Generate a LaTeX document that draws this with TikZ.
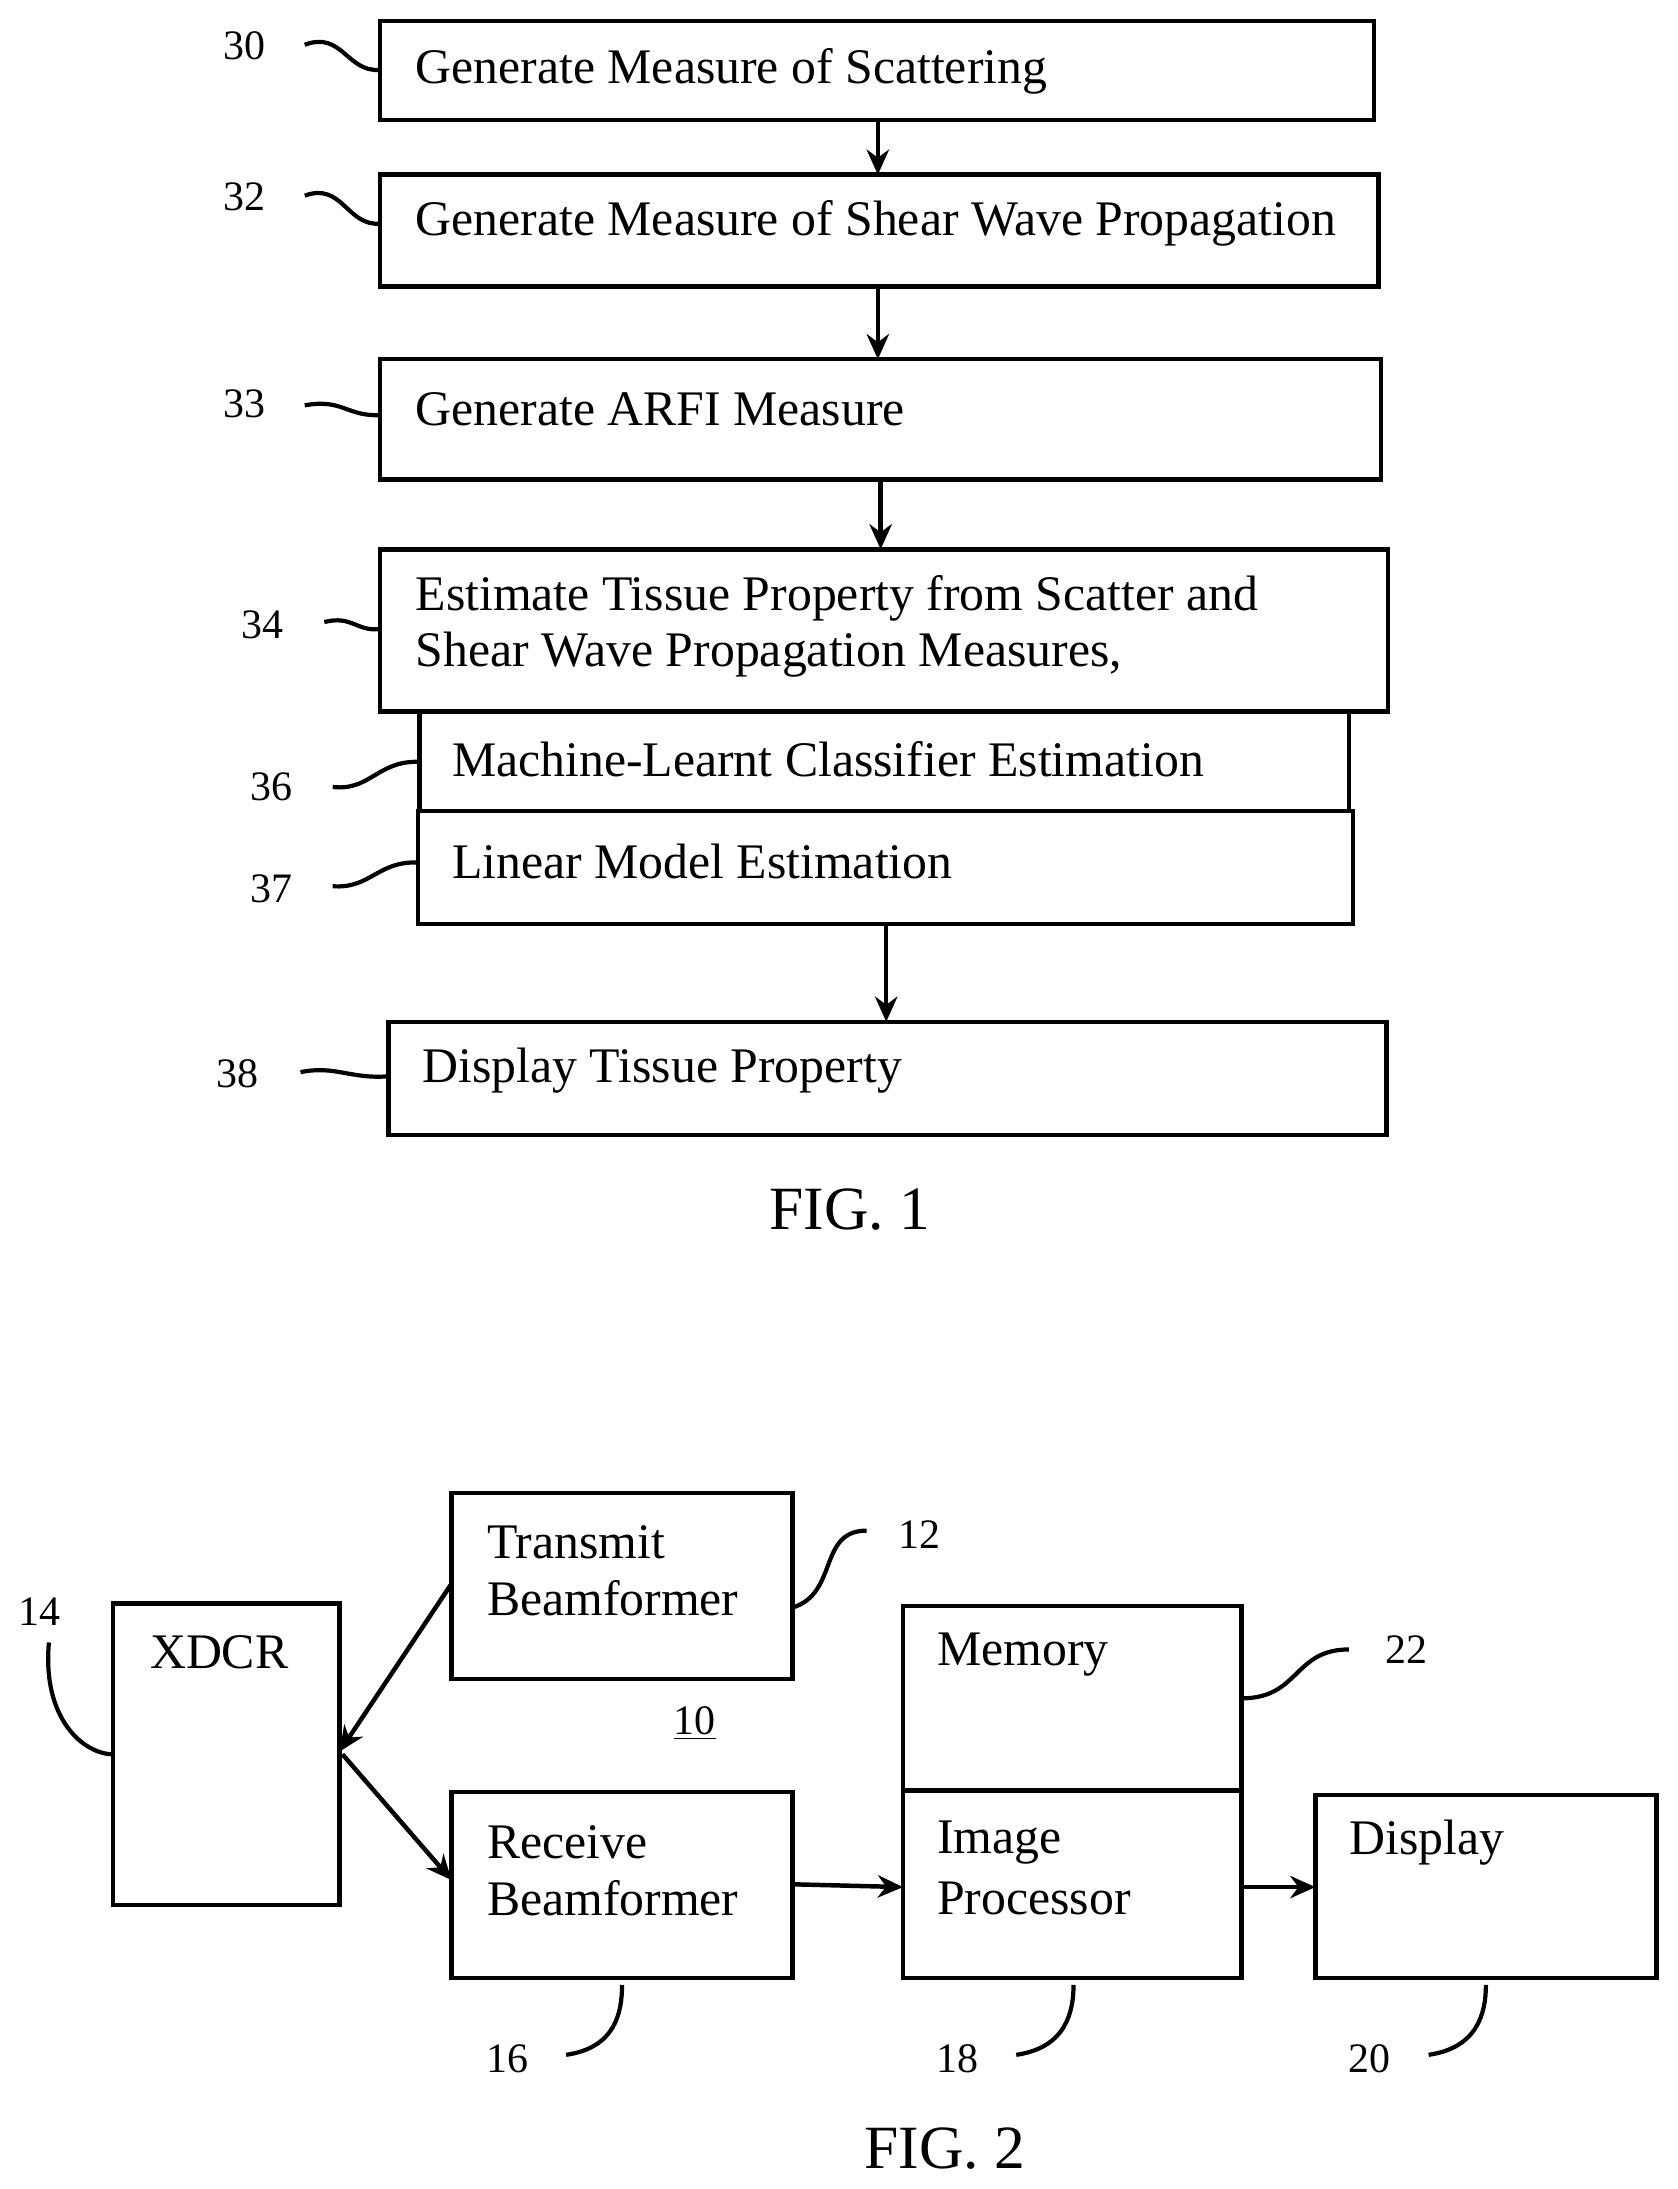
\documentclass[tikz,border=0pt]{standalone}
\usepackage{fontspec}
\setmainfont{Liberation Serif}
\usetikzlibrary{arrows.meta}
\begin{document}
\begin{tikzpicture}[x=0.5pt,y=-0.5pt,
  bx/.style={line width=1.6pt},
  tx/.style={anchor=west,font=\fontsize{17.8}{21}\selectfont,inner sep=0pt},
  lb/.style={font=\fontsize{15}{17}\selectfont,inner sep=0pt},
  sq/.style={line width=1.5pt},
  ar/.style={line width=1.6pt,-{Stealth[length=9pt,width=8pt]}}]
\useasboundingbox (0,0) rectangle (1200,1566);
\fill[white] (0,0) rectangle (1200,1566);
% FIG 1
\draw[bx] (272,15) rectangle (983,86); \node[tx] (t30) at (297,51) {Generate Measure of Scattering};
\draw[bx] (272,125) rectangle (986,205); \node[tx] (t32) at (297,160) {Generate Measure of Shear Wave Propagation};
\draw[bx] (272,257) rectangle (988,343); \node[tx] (t33) at (297,293) {Generate ARFI Measure};
\draw[bx] (272,393) rectangle (993,509); \node[tx] (t34a) at (297,428) {Estimate Tissue Property from Scatter and};
\node[tx] (t34b) at (297,468) {Shear Wave Propagation Measures,};
\draw[bx] (300,509) rectangle (965,580); \node[tx] (t36) at (323,543) {Machine-Learnt Classifier Estimation};
\draw[bx] (299,580) rectangle (968,661); \node[tx] (t37) at (323,616) {Linear Model Estimation};
\draw[bx] (278,731) rectangle (992,812); \node[tx] (t38) at (302,766) {Display Tissue Property};
\coordinate (a1) at (628,86); \coordinate (b1) at (628,125);
\coordinate (a2) at (628,205); \coordinate (b2) at (628,257);
\coordinate (a3) at (630,343); \coordinate (b3) at (630,393);
\coordinate (a4) at (634,661); \coordinate (b4) at (634,731);
\draw[ar] (a1)--(b1); \draw[ar] (a2)--(b2); \draw[ar] (a3)--(b3); \draw[ar] (a4)--(b4);
\node[lb] (l30) at (175,33) {30}; \node[lb] (l32) at (175,141) {32}; \node[lb] (l33) at (175,289) {33};
\node[lb] (l34) at (188,447) {34}; \node[lb] (l36) at (194,563) {36}; \node[lb] (l37) at (194,636) {37};
\node[lb] (l38) at (170,768) {38};
\draw[sq] (218,32) .. controls (245,22) and (248,52) .. (272,50);
\draw[sq] (218,140) .. controls (245,130) and (248,162) .. (272,160);
\draw[sq] (218,290) .. controls (245,285) and (248,298) .. (272,297);
\draw[sq] (232,445) .. controls (252,440) and (255,452) .. (272,450);
\draw[sq] (238,563) .. controls (265,566) and (270,544) .. (300,545);
\draw[sq] (238,634) .. controls (265,636) and (270,616) .. (299,617);
\draw[sq] (215,767) .. controls (240,762) and (250,772) .. (278,770);
\node[font=\fontsize{22}{25}\selectfont] (f1) at (608,865) {FIG. 1};
% FIG 2
\draw[bx] (323,1068) rectangle (567,1201);
\node[tx] at (348,1103) {Transmit}; \node[tx] at (348,1143) {Beamformer};
\draw[bx] (81,1147) rectangle (243,1363); \node[tx] at (107,1182) {XDCR};
\draw[bx] (646,1149) rectangle (888,1281); \node[tx] at (670,1184) {Memory};
\draw[bx] (323,1282) rectangle (567,1415);
\node[tx] at (348,1318) {Receive}; \node[tx] at (348,1358) {Beamformer};
\draw[bx] (646,1281) rectangle (888,1415);
\node[tx] at (670,1318) {Image}; \node[tx] at (670,1358) {Processor};
\draw[bx] (941,1284) rectangle (1185,1415); \node[tx] at (965,1318) {Display};
\coordinate (tb) at (323,1133); \coordinate (xd) at (243,1253); \coordinate (xd2) at (245,1255);
\coordinate (rb) at (323,1345); \coordinate (ro) at (567,1348); \coordinate (ii) at (646,1350);
\coordinate (io) at (888,1350); \coordinate (di) at (941,1350);
\draw[ar] (tb)--(xd); \draw[ar] (xd2)--(rb); \draw[ar] (ro)--(ii); \draw[ar] (io)--(di);
\node[lb] at (658,1098) {12}; \node[lb] at (28,1153) {14}; \node[lb] at (1006,1180) {22};
\node[lb] at (363,1473) {16}; \node[lb] at (685,1473) {18}; \node[lb] at (980,1473) {20};
\node[lb] at (497,1233) {\underline{10}};
\draw[sq] (567,1150) .. controls (600,1140) and (585,1095) .. (620,1095);
\draw[sq] (35,1175) .. controls (30,1230) and (60,1255) .. (81,1255);
\draw[sq] (888,1215) .. controls (930,1215) and (925,1180) .. (965,1180);
\draw[sq] (405,1470) .. controls (440,1465) and (445,1440) .. (445,1420);
\draw[sq] (727,1470) .. controls (762,1465) and (768,1440) .. (768,1420);
\draw[sq] (1022,1470) .. controls (1057,1465) and (1063,1440) .. (1063,1420);
\node[font=\fontsize{22}{25}\selectfont] (f2) at (676,1537) {FIG. 2};
\end{tikzpicture}
\end{document}
